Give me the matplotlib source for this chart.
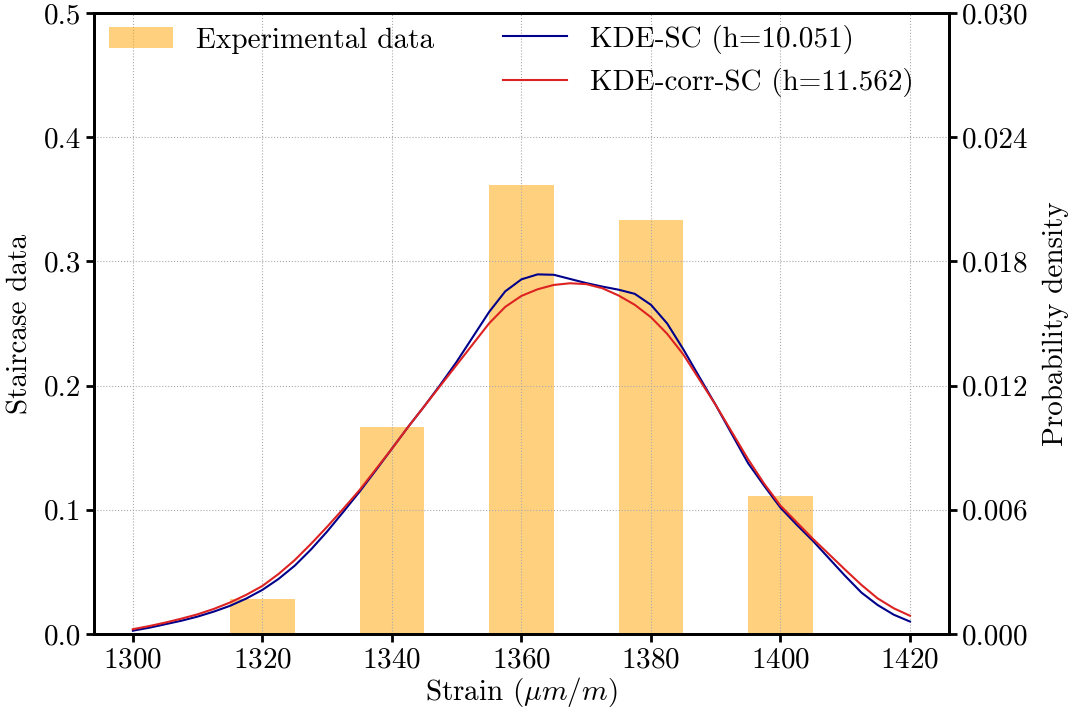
import numpy as np
import matplotlib
matplotlib.use('Agg')
import matplotlib.pyplot as plt

plt.rcParams['font.family'] = 'serif'
plt.rcParams['font.serif'] = ['cmr10']
plt.rcParams['mathtext.fontset'] = 'cm'
plt.rcParams['axes.formatter.use_mathtext'] = True
plt.rcParams['font.size'] = 21

# staircase (bar) data
bar_x = [1320, 1340, 1360, 1380, 1400]
bar_h = [0.0278, 0.1667, 0.3611, 0.3333, 0.1111]

# KDE curves, one value every 2.5 um/m
kde_x = np.arange(1300, 1420.1, 2.5)
kde_sc = [0.00016, 0.00030, 0.00047, 0.00064, 0.00084, 0.00108, 0.00136,
          0.00171, 0.00213, 0.00266, 0.00330, 0.00408, 0.00495, 0.00590,
          0.00687, 0.00790, 0.00895, 0.01000, 0.01100, 0.01205, 0.01315,
          0.01435, 0.01555, 0.01655, 0.01713, 0.01737, 0.01735, 0.01715,
          0.01695, 0.01678, 0.01663, 0.01643, 0.01590, 0.01500, 0.01375,
          0.01240, 0.01106, 0.00965, 0.00825, 0.00715, 0.00610, 0.00528,
          0.00450, 0.00365, 0.00280, 0.00200, 0.00140, 0.00093, 0.00060]
kde_corr = [0.00023, 0.00038, 0.00055, 0.00074, 0.00095, 0.00121, 0.00152,
            0.00189, 0.00232, 0.00290, 0.00357, 0.00435, 0.00518, 0.00605,
            0.00695, 0.00795, 0.00895, 0.01000, 0.01100, 0.01200, 0.01300,
            0.01400, 0.01500, 0.01580, 0.01633, 0.01665, 0.01686, 0.01694,
            0.01690, 0.01670, 0.01635, 0.01590, 0.01530, 0.01450, 0.01350,
            0.01228, 0.01106, 0.00975, 0.00844, 0.00725, 0.00620, 0.00540,
            0.00460, 0.00385, 0.00310, 0.00237, 0.00172, 0.00124, 0.00088]

fig, ax1 = plt.subplots(figsize=(10.77, 7.17), dpi=100)
fig.subplots_adjust(left=0.0873, right=0.881, bottom=0.1158, top=0.982)

ax1.bar(bar_x, bar_h, width=10, color='orange', alpha=0.5, label='Experimental data')
ax1.set_ylim(0, 0.5)
ax1.set_yticks(np.arange(0, 0.51, 0.1))
ax1.yaxis.set_major_formatter(matplotlib.ticker.FormatStrFormatter('%.1f'))
ax1.set_xlim(1294, 1426)
ax1.set_xticks(np.arange(1300, 1421, 20))
ax1.set_xlabel(r'Strain ($\mu m/m$)', labelpad=1)
ax1.set_ylabel('Staircase data', labelpad=7)
ax1.grid(True, linestyle=':', color='#aaaaaa', linewidth=0.8)

ax2 = ax1.twinx()
ax2.plot(kde_x, kde_sc, color='#00008b', linewidth=1.5, label='KDE-SC (h=10.051)')
ax2.plot(kde_x, kde_corr, color='#dd2222', linewidth=1.5, label='KDE-corr-SC (h=11.562)')
ax2.set_ylim(0, 0.03)
ax2.set_yticks(np.arange(0, 0.0301, 0.006))
ax2.yaxis.set_major_formatter(matplotlib.ticker.FormatStrFormatter('%.3f'))
ax2.set_ylabel('Probability density', labelpad=10)

for ax in (ax1, ax2):
    for sp in ax.spines.values():
        sp.set_linewidth(2)
    ax.tick_params(direction='out', width=2, length=6)

ax1.legend(loc='upper left', frameon=False, borderaxespad=0.1, handlelength=2.2)
ax2.legend(loc='upper right', frameon=False, borderaxespad=0,
           bbox_to_anchor=(0.973, 1.0), handlelength=2.2)

fig.savefig('out.png')
